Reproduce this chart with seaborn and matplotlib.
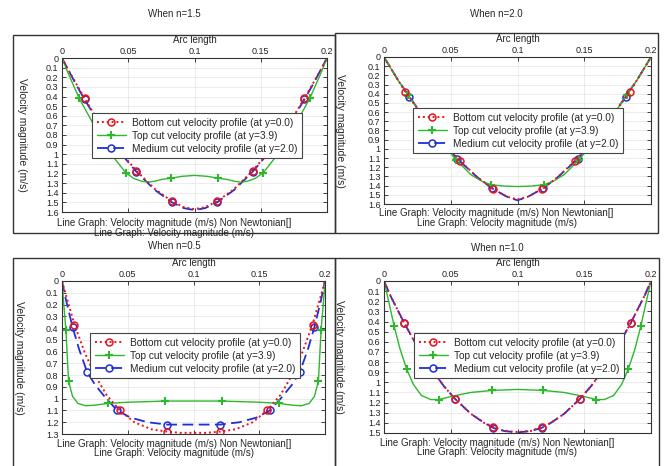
import numpy as np
import matplotlib
matplotlib.use("Agg")
import matplotlib.pyplot as plt
from matplotlib.patches import Rectangle
import seaborn as sns

# =========================
# Data
# =========================
# ----- n = 1.5 -----
x_bot_15 = [0, 0.005, 0.01, 0.017, 0.025, 0.035, 0.045, 0.056, 0.07, 0.083, 0.092, 0.1,
            0.108, 0.117, 0.13, 0.144, 0.155, 0.165, 0.175, 0.183, 0.19, 0.195, 0.2]
v_bot_15 = [0, 0.13, 0.25, 0.42, 0.60, 0.80, 0.99, 1.17, 1.36, 1.49, 1.55, 1.57,
            1.55, 1.49, 1.36, 1.17, 0.99, 0.80, 0.60, 0.42, 0.25, 0.13, 0]
mk_bot_15 = [0.017, 0.056, 0.083, 0.117, 0.144, 0.183]
x_med_15 = x_bot_15
v_med_15 = [0, 0.13, 0.26, 0.43, 0.61, 0.81, 1.00, 1.18, 1.37, 1.50, 1.56, 1.58,
            1.56, 1.50, 1.37, 1.18, 1.00, 0.81, 0.61, 0.43, 0.26, 0.13, 0]
mk_med_15 = mk_bot_15
x_top_15 = [0, 0.005, 0.013, 0.025, 0.036, 0.048, 0.054, 0.06, 0.065, 0.07, 0.076, 0.082, 0.09, 0.1,
            0.11, 0.118, 0.124, 0.13, 0.135, 0.14, 0.146, 0.152, 0.164, 0.175, 0.187, 0.195, 0.2]
v_top_15 = [0, 0.17, 0.42, 0.72, 0.98, 1.19, 1.25, 1.28, 1.29, 1.28, 1.26, 1.25, 1.23, 1.22,
            1.23, 1.25, 1.26, 1.28, 1.29, 1.28, 1.25, 1.19, 0.98, 0.72, 0.42, 0.17, 0]
mk_top_15 = [0.013, 0.048, 0.082, 0.118, 0.152, 0.187]

# ----- n = 2.0 -----
x_bot_20 = [0, 0.005, 0.01, 0.016, 0.025, 0.035, 0.045, 0.057, 0.07, 0.082, 0.092, 0.1,
            0.108, 0.118, 0.13, 0.143, 0.155, 0.165, 0.175, 0.184, 0.19, 0.195, 0.2]
v_bot_20 = [0, 0.12, 0.24, 0.38, 0.56, 0.76, 0.94, 1.13, 1.31, 1.44, 1.52, 1.55,
            1.52, 1.44, 1.31, 1.13, 0.94, 0.76, 0.56, 0.38, 0.24, 0.12, 0]
mk_bot_20 = [0.016, 0.057, 0.082, 0.118, 0.143, 0.184]
x_med_20 = [0, 0.005, 0.01, 0.019, 0.027, 0.035, 0.045, 0.055, 0.07, 0.081, 0.092, 0.1,
            0.108, 0.119, 0.13, 0.145, 0.155, 0.165, 0.173, 0.181, 0.19, 0.195, 0.2]
v_med_20 = [0, 0.12, 0.24, 0.43, 0.60, 0.76, 0.94, 1.11, 1.31, 1.43, 1.52, 1.56,
            1.52, 1.43, 1.31, 1.11, 0.94, 0.76, 0.60, 0.43, 0.24, 0.12, 0]
mk_med_20 = [0.019, 0.055, 0.081, 0.119, 0.145, 0.181]
x_top_20 = [0, 0.005, 0.01, 0.018, 0.025, 0.035, 0.045, 0.054, 0.065, 0.073, 0.08, 0.09, 0.1,
            0.11, 0.12, 0.127, 0.135, 0.146, 0.155, 0.165, 0.175, 0.182, 0.19, 0.195, 0.2]
v_top_20 = [0, 0.12, 0.24, 0.41, 0.56, 0.77, 0.96, 1.12, 1.28, 1.35, 1.39, 1.405, 1.41,
            1.405, 1.39, 1.35, 1.28, 1.12, 0.96, 0.77, 0.56, 0.41, 0.24, 0.12, 0]
mk_top_20 = [0.018, 0.054, 0.08, 0.12, 0.146, 0.182]

# ----- n = 0.5 -----
x_bot_05 = [0, 0.003, 0.0095, 0.017, 0.025, 0.034, 0.044, 0.055, 0.068, 0.08, 0.09, 0.1,
            0.11, 0.12, 0.132, 0.145, 0.156, 0.166, 0.175, 0.183, 0.1905, 0.197, 0.2]
v_bot_05 = [0, 0.12, 0.37, 0.60, 0.80, 0.97, 1.10, 1.20, 1.26, 1.28, 1.29, 1.29,
            1.29, 1.28, 1.26, 1.20, 1.10, 0.97, 0.80, 0.60, 0.37, 0.12, 0]
mk_bot_05 = [0.0095, 0.044, 0.08, 0.12, 0.156, 0.1905]
x_med_05 = [0, 0.003, 0.008, 0.013, 0.019, 0.025, 0.033, 0.042, 0.052, 0.065, 0.08, 0.1,
            0.12, 0.135, 0.148, 0.158, 0.167, 0.175, 0.181, 0.187, 0.192, 0.197, 0.2]
v_med_05 = [0, 0.16, 0.39, 0.58, 0.77, 0.88, 0.99, 1.10, 1.16, 1.20, 1.22, 1.22,
            1.22, 1.20, 1.16, 1.10, 0.99, 0.88, 0.77, 0.58, 0.39, 0.16, 0]
mk_med_05 = [0.008, 0.019, 0.042, 0.08, 0.12, 0.158, 0.181, 0.192]
x_top_05 = [0, 0.001, 0.003, 0.005, 0.008, 0.012, 0.018, 0.025, 0.035, 0.05, 0.065, 0.078, 0.09, 0.1,
            0.11, 0.122, 0.135, 0.15, 0.165, 0.175, 0.182, 0.188, 0.192, 0.195, 0.197, 0.199, 0.2]
v_top_05 = [0, 0.15, 0.42, 0.85, 0.98, 1.04, 1.06, 1.055, 1.04, 1.03, 1.025, 1.02, 1.02, 1.02,
            1.02, 1.02, 1.025, 1.03, 1.04, 1.055, 1.06, 1.04, 0.98, 0.85, 0.42, 0.15, 0]
mk_top_05 = [0.003, 0.005, 0.035, 0.078, 0.122, 0.165, 0.195, 0.197]

# ----- n = 1.0 -----
x_bot_10 = [0, 0.005, 0.01, 0.015, 0.025, 0.035, 0.045, 0.053, 0.065, 0.075, 0.082, 0.09, 0.1,
            0.11, 0.118, 0.125, 0.135, 0.147, 0.155, 0.165, 0.175, 0.185, 0.19, 0.195, 0.2]
v_bot_10 = [0, 0.15, 0.28, 0.41, 0.65, 0.86, 1.04, 1.16, 1.31, 1.40, 1.44, 1.48, 1.49,
            1.48, 1.44, 1.40, 1.31, 1.16, 1.04, 0.86, 0.65, 0.41, 0.28, 0.15, 0]
mk_bot_10 = [0.015, 0.053, 0.082, 0.118, 0.147, 0.185]
x_med_10 = x_bot_10
v_med_10 = [0, 0.15, 0.28, 0.41, 0.65, 0.86, 1.04, 1.16, 1.31, 1.40, 1.45, 1.48, 1.495,
            1.48, 1.45, 1.40, 1.31, 1.16, 1.04, 0.86, 0.65, 0.41, 0.28, 0.15, 0]
mk_med_10 = mk_bot_10
x_top_10 = [0, 0.004, 0.0075, 0.012, 0.017, 0.022, 0.028, 0.035, 0.041, 0.05, 0.065, 0.081, 0.1,
            0.119, 0.135, 0.15, 0.159, 0.165, 0.172, 0.178, 0.183, 0.188, 0.1925, 0.196, 0.2]
v_top_10 = [0, 0.23, 0.44, 0.67, 0.87, 1.02, 1.13, 1.17, 1.17, 1.14, 1.10, 1.08, 1.07,
            1.08, 1.10, 1.14, 1.17, 1.17, 1.13, 1.02, 0.87, 0.67, 0.44, 0.23, 0]
mk_top_10 = [0.0075, 0.017, 0.041, 0.081, 0.119, 0.159, 0.183, 0.1925]

# ----- text -----
lab_bot = "Bottom cut velocity profile (at y=0.0)"
lab_top = "Top cut velocity profile (at y=3.9)"
lab_med = "Medium cut velocity profile (at y=2.0)"
captions = ["When n=1.5", "When n=2.0", "When n=0.5", "When n=1.0"]
y_max = [1.6, 1.6, 1.3, 1.5]
x_ticks = [0, 0.05, 0.1, 0.15, 0.2]
x_tick_labels = ["0", "0.05", "0.1", "0.15", "0.2"]
title1 = "Line Graph: Velocity magnitude (m/s) Non Newtonian[]"
title2 = "Line Graph: Velocity magnitude (m/s)"

panels = [
    (x_bot_15, v_bot_15, mk_bot_15, x_top_15, v_top_15, mk_top_15, x_med_15, v_med_15, mk_med_15),
    (x_bot_20, v_bot_20, mk_bot_20, x_top_20, v_top_20, mk_top_20, x_med_20, v_med_20, mk_med_20),
    (x_bot_05, v_bot_05, mk_bot_05, x_top_05, v_top_05, mk_top_05, x_med_05, v_med_05, mk_med_05),
    (x_bot_10, v_bot_10, mk_bot_10, x_top_10, v_top_10, mk_top_10, x_med_10, v_med_10, mk_med_10),
]

# =========================
# Layout (pixels -> figure fractions)
# =========================
sns.set_style("white")
plt.rcParams['font.family'] = ['Liberation Sans', 'DejaVu Sans']

W, H = 666, 466
fig = plt.figure(figsize=(W / 100, H / 100), dpi=100)

# axes boxes in pixels: left, top, right, bottom
ax_px = [(62, 58, 327, 212), (384, 57, 651, 204), (62, 281, 325, 434), (384, 281, 651, 433)]
# outer frames of the graph windows
frame_px = [(13, 35, 335, 233), (335, 33, 658, 233), (13, 258, 335, 470), (335, 258, 659, 470)]
caption_y = [14, 14, 246, 248]
title_y = [(223, 233), (213, 223), (444, 453), (443, 452)]
xlab_y = [40, 39, 263, 263]
ylab_x = [22, 340, 19, 339]
legend_px = [(92, 113), (413, 108), (90, 333), (414, 333)]

RED = '#e8141e'
GREEN = '#2db82d'
BLUE = '#1f2fd8'


def idx_of(xs, marks):
    xs = np.asarray(xs)
    return [int(np.argmin(np.abs(xs - m))) for m in marks]


for i, data in enumerate(panels):
    xb, vb, mb, xt, vt, mt, xm, vm, mm = data
    l, t, r, b = ax_px[i]
    ax = fig.add_axes([l / W, 1 - b / H, (r - l) / W, (b - t) / H])

    # outer frame of each graph window
    fl, ft, fr, fb = frame_px[i]
    fig.patches.append(Rectangle((fl / W, 1 - fb / H), (fr - fl) / W, (fb - ft) / H,
                                 transform=fig.transFigure, fill=False,
                                 edgecolor='#333333', lw=1.0))

    sns.lineplot(x=xm, y=vm, ax=ax, color=BLUE, linestyle=(0, (6, 3)), lw=1.3,
                 marker='o', markevery=idx_of(xm, mm), ms=5, mfc='none', mec=BLUE,
                 mew=1.1, label=lab_med, sort=False, estimator=None)
    sns.lineplot(x=xt, y=vt, ax=ax, color=GREEN, linestyle='-', lw=1.0,
                 marker='+', markevery=idx_of(xt, mt), ms=6, mec=GREEN,
                 mew=1.5, label=lab_top, sort=False, estimator=None)
    sns.lineplot(x=xb, y=vb, ax=ax, color=RED, linestyle=(0, (1, 1.5)), lw=1.4,
                 marker='o', markevery=idx_of(xb, mb), ms=5, mfc='none', mec=RED,
                 mew=1.1, label=lab_bot, sort=False, estimator=None)

    ax.set_xlim(0, 0.2)
    ax.set_ylim(y_max[i], 0)
    ax.set_xticks(x_ticks)
    ax.set_xticklabels(x_tick_labels)
    yt = np.round(np.arange(0, y_max[i] + 1e-6, 0.1), 1)
    ax.set_yticks(yt)
    ax.set_yticklabels([f"{v:g}" for v in yt])
    ax.tick_params(direction='in', length=3, width=0.6, top=True, right=True,
                   bottom=True, left=True, labeltop=True, labelbottom=False,
                   labelsize=6.5, colors='#222222')
    ax.tick_params(axis='x', pad=1.5)
    ax.tick_params(axis='y', pad=2.5)
    ax.grid(True, color='#e4e4e4', lw=0.5)
    for s in ax.spines.values():
        s.set_color('#333333')
        s.set_linewidth(0.8)

    ax.xaxis.set_label_position('top')
    ax.set_xlabel("Arc length", fontsize=7, va='center')
    ax.xaxis.set_label_coords(0.5, 1 + (t - xlab_y[i]) / (b - t))
    ax.set_ylabel("Velocity magnitude (m/s)", fontsize=7.5, rotation=270,
                  va='center', ha='center')
    ax.yaxis.set_label_coords((ylab_x[i] - l) / (r - l), 0.5)

    # legend, in the picture's order
    h, lab = ax.get_legend_handles_labels()
    order = [lab.index(lab_bot), lab.index(lab_top), lab.index(lab_med)]
    lx, ly = legend_px[i]
    leg = ax.legend([h[k] for k in order], [lab[k] for k in order],
                    loc='upper left',
                    bbox_to_anchor=((lx - l) / (r - l), (b - ly) / (b - t)),
                    fontsize=7.3, frameon=True, fancybox=False, framealpha=1,
                    edgecolor='#444444', borderpad=0.45, labelspacing=0.3,
                    handlelength=2.9, handletextpad=0.6, numpoints=1,
                    borderaxespad=0)
    leg.get_frame().set_linewidth(0.8)

    cx = (fl + fr) / 2 / W
    fig.text(cx, 1 - title_y[i][0] / H, title1, ha='center', va='center', fontsize=7)
    fig.text(cx, 1 - title_y[i][1] / H, title2, ha='center', va='center', fontsize=7)
    fig.text(cx, 1 - caption_y[i] / H, captions[i], ha='center', va='center', fontsize=7)

fig.savefig("out.png", dpi=100)
